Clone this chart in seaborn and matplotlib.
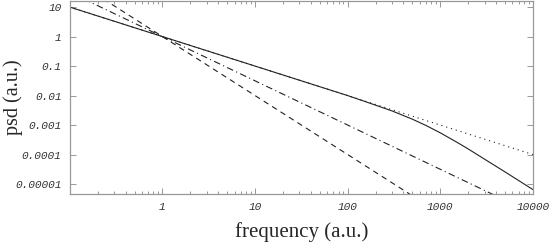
import numpy as np
import seaborn as sns
import matplotlib.pyplot as plt
import matplotlib.ticker as ticker

# values (log-log spectra)
freq_cut = [0.1, 1, 10, 100, 150, 300, 500, 700, 1000, 1500, 2000, 3000,
            5000, 7000, 10000]
psd_cut = [10, 1, 0.1, 0.01, 0.00647, 0.00303, 0.00158, 0.00097, 0.000545,
           0.000265, 0.000155, 0.00007, 0.0000258, 0.0000132, 0.0000065]
freq_ends = [0.1, 10000]
psd_pink = [10, 0.0001]
psd_mid = [31.6, 0.000001]
psd_brown = [100, 0.00000001]

x_ticks = [1, 10, 100, 1000, 10000]
x_labels = ["1", "10", "100", "1000", "10000"]
y_ticks = [10, 1, 0.1, 0.01, 0.001, 0.0001, 0.00001]
y_labels = ["10", "1", "0.1", "0.01", "0.001", "0.0001", "0.00001"]


def main():
    sns.set_style("ticks")
    fig = plt.figure(figsize=(5.54, 2.43), dpi=100)
    ax = fig.add_axes([0.126, 0.2016, 0.836, 0.794])

    line_kw = dict(color="#222222", linewidth=0.8, ax=ax)
    sns.lineplot(x=freq_ends, y=psd_pink, linestyle=(0, (1, 3.5)), **line_kw)
    sns.lineplot(x=freq_ends, y=psd_mid, linestyle=(0, (6, 3, 1, 3)), **line_kw)
    sns.lineplot(x=freq_ends, y=psd_brown, linestyle=(0, (5, 4)), **line_kw)
    sns.lineplot(x=freq_cut, y=psd_cut, linestyle="-", **line_kw)

    ax.set_xscale("log")
    ax.set_yscale("log")
    ax.set_xlim(0.1, 10000)
    ax.set_ylim(4.6e-6, 16)

    ax.set_xticks(x_ticks)
    ax.set_xticklabels(x_labels)
    ax.set_yticks(y_ticks)
    ax.set_yticklabels(y_labels)
    ax.xaxis.set_minor_locator(ticker.LogLocator(10, subs=np.arange(2, 10)))
    ax.yaxis.set_minor_locator(ticker.LogLocator(10, subs=np.arange(2, 10)))
    ax.xaxis.set_minor_formatter(ticker.NullFormatter())
    ax.yaxis.set_minor_formatter(ticker.NullFormatter())

    ax.tick_params(which="both", direction="in", top=True, right=True,
                   color="#888888", width=0.6)
    ax.tick_params(which="major", length=4, pad=6)
    ax.tick_params(which="minor", length=2)
    for lab in ax.get_xticklabels() + ax.get_yticklabels():
        lab.set_fontfamily("Liberation Mono")
        lab.set_fontstyle("italic")
        lab.set_fontsize(8)
        lab.set_color("#333333")
    for sp in ax.spines.values():
        sp.set_color("#999999")
        sp.set_linewidth(0.9)

    ax.set_xlabel("frequency (a.u.)", family="Liberation Serif",
                  fontsize=15, labelpad=7)
    ax.set_ylabel("psd (a.u.)", family="Liberation Serif", fontsize=14.5)
    ax.yaxis.set_label_coords(-0.1, 0.5)

    fig.savefig("out.png", dpi=100)


if __name__ == "__main__":
    main()
